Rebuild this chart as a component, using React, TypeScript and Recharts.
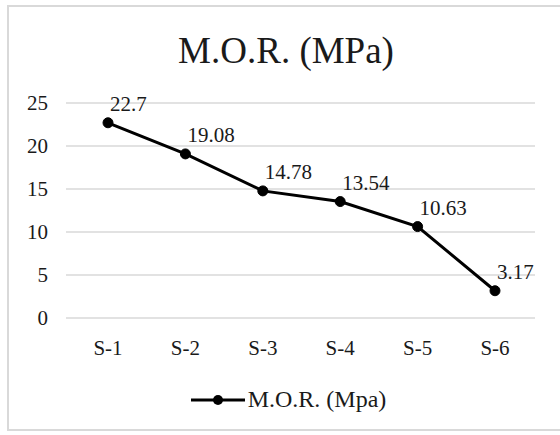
import { LineChart, Line, XAxis, YAxis, CartesianGrid, Legend, LabelList } from 'recharts'

const samples = ['S-1', 'S-2', 'S-3', 'S-4', 'S-5', 'S-6']
const morValues = [22.7, 19.08, 14.78, 13.54, 10.63, 3.17]
const yTicks = [0, 5, 10, 15, 20, 25]

const data = samples.map((name, i) => ({ name, mor: morValues[i] }))

const FONT = '"Liberation Serif", "Times New Roman", serif'
const TEXT = '#1a1a1a'

function PointLabel(props: any) {
  const { x, y, value } = props
  return (
    <text x={x + 2} y={y - 12} fill={TEXT} fontSize={21} fontFamily={FONT} textAnchor="start">
      {value}
    </text>
  )
}

function LegendBox() {
  return (
    <div style={{ display: 'flex', alignItems: 'center', justifyContent: 'center', paddingLeft: 42, fontFamily: FONT, fontSize: 24, color: TEXT }}>
      <svg width={54} height={20} style={{ marginRight: 3 }}>
        <line x1={0} y1={10} x2={54} y2={10} stroke="#000" strokeWidth={3} />
        <circle cx={27} cy={10} r={5} fill="#000" />
      </svg>
      <span>M.O.R. (Mpa)</span>
    </div>
  )
}

export default function App() {
  return (
    <div style={{ position: 'absolute', left: 0, top: 0, width: 560, height: 435, background: '#fff' }}>
      <div style={{ position: 'absolute', left: 7, top: 5, width: 580, height: 426, border: '2px solid #d9d9d9', boxSizing: 'border-box' }} />
      <div style={{ position: 'absolute', left: 0, top: 29, width: 572, textAlign: 'center', fontFamily: FONT, fontSize: 37, color: TEXT }}>
        M.O.R.  (MPa)
      </div>
      <LineChart width={560} height={435} data={data} margin={{ top: 103, right: 25, bottom: 9, left: 0 }}>
        <CartesianGrid vertical={false} stroke="#d9d9d9" strokeWidth={1.5} />
        <XAxis
          dataKey="name"
          axisLine={false}
          tickLine={false}
          height={68}
          tickSize={0}
          tickMargin={22}
          padding={{ left: 42, right: 40 }}
          tick={{ fill: TEXT, fontSize: 21, fontFamily: FONT }}
        />
        <YAxis
          domain={[0, 25]}
          ticks={yTicks}
          width={66}
          axisLine={false}
          tickLine={false}
          tickSize={0}
          tickMargin={18}
          tick={{ fill: TEXT, fontSize: 21, fontFamily: FONT }}
        />
        <Legend verticalAlign="bottom" height={40} content={() => <LegendBox />} />
        <Line
          type="linear"
          dataKey="mor"
          name="M.O.R. (Mpa)"
          stroke="#000"
          strokeWidth={3}
          dot={{ r: 5, fill: '#000', stroke: '#000', strokeWidth: 1 }}
          isAnimationActive={false}
        >
          <LabelList dataKey="mor" content={PointLabel} />
        </Line>
      </LineChart>
    </div>
  )
}
